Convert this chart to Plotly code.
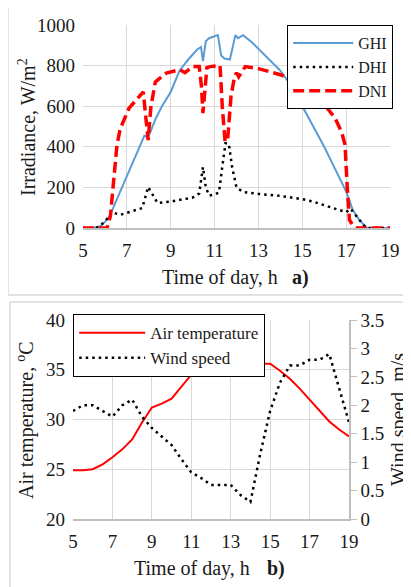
import plotly.graph_objects as go

# ---------------- data ----------------
t_ghi = [5, 5.5, 5.8, 6.0, 6.2, 6.5, 7.0, 7.5, 7.8, 7.97, 8.1, 8.3, 8.6, 9.0, 9.4, 9.8, 10.2,
         10.38, 10.47, 10.6, 10.75, 11.0, 11.15, 11.3, 11.45, 11.7, 11.85, 11.95, 12.07, 12.3,
         12.7, 13.2, 13.6, 14.0, 14.5, 15.0, 15.5, 16.0, 16.5, 17.0, 17.3, 17.6, 17.95, 18.5, 19]
ghi = [0, 0, 10, 30, 55, 130, 255, 380, 455, 445, 480, 535, 600, 670, 775, 830, 878,
       892, 822, 920, 935, 945, 950, 850, 835, 830, 900, 950, 935, 950,
       915, 862, 820, 775, 700, 600, 500, 400, 290, 180, 90, 40, 0, 0, 0]

t_dhi = [5, 5.6, 6.0, 6.3, 6.7, 7.2, 7.7, 7.97, 8.15, 8.4, 9.0, 9.5, 10.0, 10.3, 10.47, 10.6,
         10.75, 11.0, 11.2, 11.35, 11.5, 11.65, 11.8, 12.0, 12.3, 13.0, 14.0, 15.0, 15.5, 16.0,
         16.5, 17.0, 17.2, 17.5, 17.9, 18.5, 19]
dhi = [0, 0, 30, 78, 65, 80, 98, 202, 170, 123, 130, 140, 150, 170, 300, 200,
       160, 165, 175, 300, 418, 415, 300, 200, 177, 168, 158, 142, 130, 112,
       95, 78, 95, 55, 0, 0, 0]

t_dni = [5, 6.1, 6.25, 6.4, 6.55, 6.7, 7.1, 7.5, 7.75, 7.85, 7.97, 8.1, 8.3, 8.8, 9.4, 9.65,
         10.0, 10.3, 10.4, 10.47, 10.55, 10.65, 10.8, 11.1, 11.25, 11.35, 11.48, 11.6, 11.75,
         11.9, 12.0, 12.1, 12.4, 13.0, 13.5, 14.0, 14.5, 15.0, 15.5, 16.0, 16.5, 16.8, 16.95,
         17.05, 17.15, 17.3, 17.5, 19]
dni = [0, 0, 60, 250, 410, 490, 590, 640, 670, 560, 433, 600, 720, 763, 780, 765,
       795, 795, 700, 566, 690, 790, 795, 800, 800, 600, 425, 440, 650,
       740, 765, 745, 795, 785, 770, 755, 735, 700, 660, 610, 540, 470, 410,
       200, 40, 15, 0, 0]

t_half = [5, 5.5, 6, 6.5, 7, 7.5, 8, 8.5, 9, 9.5, 10, 10.5, 11, 11.5, 12, 12.5, 13, 13.5,
          14, 14.5, 15, 15.5, 16, 16.5, 17, 17.5, 18, 18.5, 19]
air_temp = [24.9, 24.9, 25.0, 25.5, 26.2, 27.0, 28.0, 29.7, 31.2, 31.6, 32.1, 33.3, 34.5, 35.1,
            35.6, 35.4, 35.1, 35.3, 35.6, 35.6, 35.6, 34.9, 34.1, 33.1, 32.0, 31.0, 29.8, 29.0, 28.3]
wind = [1.9, 2.0, 2.0, 1.9, 1.8, 2.0, 2.1, 1.8, 1.6, 1.45, 1.3, 1.05, 0.82, 0.72,
        0.6, 0.6, 0.6, 0.42, 0.3, 1.15, 1.9, 2.4, 2.7, 2.7, 2.8, 2.8, 2.9, 2.3, 1.7]

x_ticks = [5, 7, 9, 11, 13, 15, 17, 19]
irr_ticks = [0, 200, 400, 600, 800, 1000]
temp_ticks = [20, 25, 30, 35, 40]
wind_ticks = [0, 0.5, 1, 1.5, 2, 2.5, 3, 3.5]

# ---------------- figure ----------------
# the page places the figure 8px from the top-left corner of the window
OFF = 8
W, H = 411 - OFF, 587 - OFF
FONT = "Liberation Serif"
GRID = "#d9d9d9"
AX = "#bfbfbf"
TXT = "#1a1a1a"

def px(x):
    return (x - OFF) / W

def py(y):
    return 1 - (y - OFF) / H

fig = go.Figure()

fig.add_trace(go.Scatter(x=t_ghi, y=ghi, name="GHI", mode="lines",
                         line=dict(color="#5b9bd5", width=2), xaxis="x", yaxis="y",
                         legend="legend"))
fig.add_trace(go.Scatter(x=t_dhi, y=dhi, name="DHI", mode="lines",
                         line=dict(color="black", width=2.5, dash="2.5px,4px"), xaxis="x", yaxis="y",
                         legend="legend"))
fig.add_trace(go.Scatter(x=t_dni, y=dni, name="DNI", mode="lines",
                         line=dict(color="#ff0000", width=3.5, dash="11px,5px"), xaxis="x", yaxis="y",
                         legend="legend"))

fig.add_trace(go.Scatter(x=t_half, y=air_temp, name="Air temperature", mode="lines",
                         line=dict(color="#ff0000", width=2), xaxis="x2", yaxis="y2",
                         legend="legend2"))
fig.add_trace(go.Scatter(x=t_half, y=wind, name="Wind speed", mode="lines",
                         line=dict(color="black", width=2.5, dash="2.5px,4px"), xaxis="x2", yaxis="y3",
                         legend="legend2"))

tickfont = dict(family=FONT, size=19, color=TXT)

common_x = dict(range=[5, 19], tickvals=x_ticks, showgrid=True, gridcolor=GRID, gridwidth=1,
                zeroline=False, showline=True, linecolor=AX, linewidth=1.5,
                ticks="", tickfont=tickfont, fixedrange=True, automargin=False,
                ticklabelstandoff=4)

fig.update_layout(
    width=W, height=H,
    margin=dict(l=0, r=0, t=0, b=0, autoexpand=False),
    paper_bgcolor="white", plot_bgcolor="white",
    font=dict(family=FONT, size=18, color=TXT),
    xaxis=dict(domain=[px(83), px(390)], anchor="y", **common_x),
    yaxis=dict(domain=[py(228), py(25)], anchor="x", range=[0, 1000], tickvals=irr_ticks,
               showgrid=True, gridcolor=GRID, zeroline=False, showline=False,
               ticks="", tickfont=tickfont, ticklabelstandoff=7, automargin=False),
    xaxis2=dict(domain=[px(73), px(349)], anchor="y2", **common_x),
    yaxis2=dict(domain=[py(519), py(320)], anchor="x2", range=[20, 40], tickvals=temp_ticks,
                showgrid=True, gridcolor=GRID, zeroline=False, showline=False,
                ticks="", tickfont=tickfont, ticklabelstandoff=7, automargin=False),
    yaxis3=dict(overlaying="y2", anchor="x2", side="right", range=[0, 3.5], tickvals=wind_ticks,
                showgrid=False, zeroline=False, showline=True, linecolor=AX, linewidth=1.5,
                ticks="outside", ticklen=6, tickcolor=AX, tickfont=tickfont, automargin=False),
    legend=dict(x=px(393), y=py(25), xanchor="right", yanchor="top",
                bgcolor="white", bordercolor="black", borderwidth=1.2,
                font=dict(family=FONT, size=16, color=TXT), itemwidth=60,
                tracegroupgap=0),
    legend2=dict(x=px(73), y=py(314), xanchor="left", yanchor="top",
                 bgcolor="white", bordercolor="black", borderwidth=1.2,
                 font=dict(family=FONT, size=17, color=TXT), itemwidth=66),
    showlegend=True,
)

# panel borders
shapes = [
    dict(type="rect", xref="paper", yref="paper", x0=px(8), x1=px(408), y0=py(295), y1=py(5),
         line=dict(color=GRID, width=1.5), layer="below"),
    dict(type="line", xref="paper", yref="paper", x0=px(10), x1=px(411), y0=py(302), y1=py(302),
         line=dict(color=GRID, width=1.5)),
    dict(type="line", xref="paper", yref="paper", x0=px(10), x1=px(10), y0=py(302), y1=0,
         line=dict(color=GRID, width=1.5)),
]
fig.update_layout(shapes=shapes)

tf = dict(family=FONT, size=20, color=TXT)
ann = [
    dict(text="Irradiance, W/m<sup>2</sup>", x=px(27), y=py(127), textangle=-90),
    dict(text="Time of day, h", x=px(220), y=py(277)),
    dict(text="<b>a)</b>", x=px(300), y=py(277)),
    dict(text="Air temperature, <sup>o</sup>C", x=px(25), y=py(420), textangle=-90),
    dict(text="Wind speed, m/s", x=px(398), y=py(420), textangle=-90),
    dict(text="Time of day, h", x=px(192), y=py(568)),
    dict(text="<b>b)</b>", x=px(276), y=py(568)),
]
for a in ann:
    a.update(xref="paper", yref="paper", showarrow=False, font=tf,
             xanchor="center", yanchor="middle")
fig.update_layout(annotations=ann)

fig.write_html("out.html")
